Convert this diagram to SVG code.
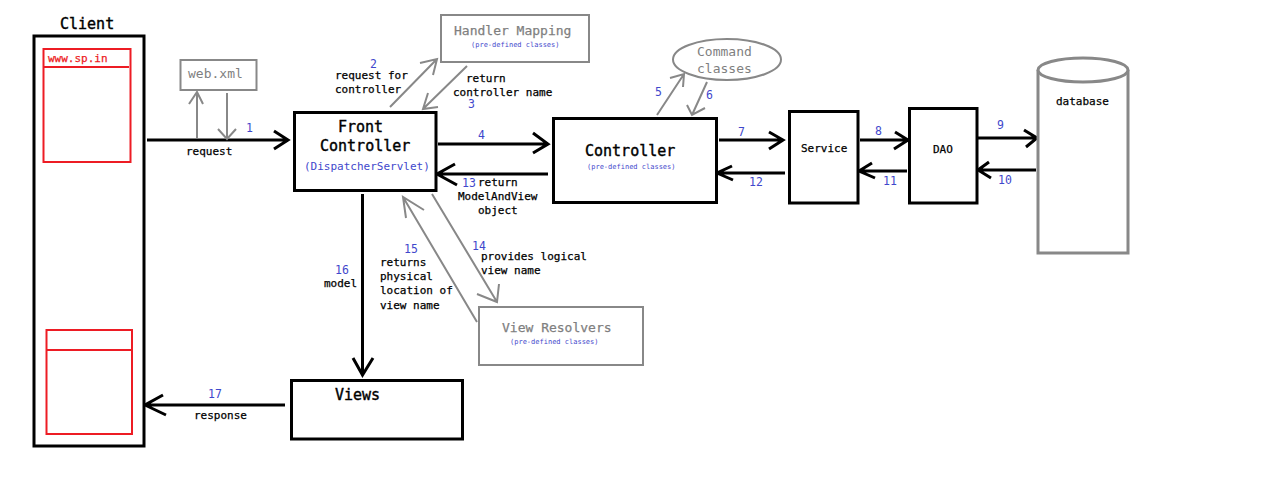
<svg xmlns="http://www.w3.org/2000/svg" width="1280" height="490" viewBox="0 0 1280 490">
<style>
text{font-family:"DejaVu Sans Mono","Liberation Mono",monospace;white-space:pre}
.lbl{font-size:11px;fill:#000;stroke:#000;stroke-width:.25}
.num{font-size:11.500px;fill:#3f48cc}
.pre{font-size:7px;fill:#3f48cc}
.ttl{font-size:15px;fill:#000;stroke:#000;stroke-width:.4}
.gt{font-size:13px;fill:#7f7f7f}
.gb{stroke:#7f7f7f;stroke-width:.25}
.blk{fill:#fff;stroke:#000;stroke-width:3}
.gry{fill:#fff;stroke:#888;stroke-width:2}
.red{fill:#fff;stroke:#ed1c24;stroke-width:2}
.a{fill:none;stroke:#000;stroke-width:3;stroke-linejoin:miter}
.g{fill:none;stroke:#888;stroke-width:2}
</style>
<rect width="1280" height="490" fill="#fff"/>
<g id="connectors">
<path class="a" d="M147 140H287M274 131L288 140L274 149"/>
<path class="g" d="M197 138V92M189 104L197 92L203 104"/>
<path class="g" d="M227 93V139M218 129L227 139L236 129"/>
<path class="g" d="M390 107L437 59M420 63L437 59L433 75"/>
<path class="g" d="M467 66L423 109M438 107L423 109L428 93"/>
<path class="a" d="M438 144H547M533 133L548 144L533 153"/>
<path class="a" d="M548 174H438M455 164L437 174L457 185"/>
<path class="g" d="M657 115L684 74M670 78L684 74L683 87"/>
<path class="g" d="M707 82L692 115M687 105L692 115L705 108"/>
<path class="a" d="M719 140H782M769 132L783 140L769 149"/>
<path class="a" d="M785 173H718M732 166L717 173L733 180"/>
<path class="a" d="M860 140H907M895 132L908 140L894 149"/>
<path class="a" d="M907 171H860M872 163L859 171L875 178"/>
<path class="a" d="M978 138H1036M1024 130L1037 138L1026 147"/>
<path class="a" d="M1036 170H979M989 162L978 170L991 178"/>
<path class="a" d="M362.500 194V374M353 358L362.500 375L373 358"/>
<path class="g" d="M477 322L403 197M424 210L403 197L406 218"/>
<path class="g" d="M432 194L497 302M477 294L497 302L499 284"/>
<path class="a" d="M285 405H146M163 395L145 405L166 415"/>
</g>
<g id="client">
<text class="ttl" x="60" y="29">Client</text>
<rect class="blk" x="34" y="36" width="110" height="410"/>
<rect class="red" x="43.500" y="49" width="87" height="113"/>
<path d="M43 67H129" stroke="#ed1c24" stroke-width="2"/>
<text x="48" y="62" font-size="11" stroke="#ed1c24" stroke-width=".25" fill="#ed1c24">www.sp.in</text>
<rect class="red" x="46.500" y="330" width="85.500" height="104"/>
<path d="M46 350H132" stroke="#ed1c24" stroke-width="2"/>
</g>
<g id="web-xml">
<rect class="gry" x="180.500" y="60" width="76" height="30"/>
<text class="gt" x="188" y="78">web.xml</text>
</g>
<g id="front-controller">
<rect class="blk" x="294.500" y="112.500" width="141.500" height="78"/>
<text class="ttl" x="338" y="132">Front</text>
<text class="ttl" x="320" y="151">Controller</text>
<text x="304" y="170" font-size="11" fill="#3f48cc">(DispatcherServlet)</text>
</g>
<g id="handler-mapping">
<rect class="gry" x="441" y="15" width="148" height="47"/>
<text class="gt gb" x="454" y="35">Handler Mapping</text>
<text class="pre" x="471" y="47">(pre-defined classes)</text>
</g>
<g id="command-classes">
<ellipse cx="727" cy="59.500" rx="54" ry="20.500" fill="#fff" stroke="#888" stroke-width="2"/>
<text class="gt" x="697" y="56">Command</text>
<text class="gt" x="697" y="73">classes</text>
</g>
<g id="controller">
<rect class="blk" x="553.500" y="118.500" width="163" height="84"/>
<text class="ttl" x="585" y="156">Controller</text>
<text class="pre" x="587" y="169">(pre-defined classes)</text>
</g>
<g id="service">
<rect class="blk" x="789.500" y="111.500" width="68.500" height="91.500"/>
<text class="lbl" x="801" y="152">Service</text>
</g>
<g id="dao">
<rect class="blk" x="909.500" y="108.500" width="67.500" height="94.500"/>
<text class="lbl" x="933" y="153">DAO</text>
</g>
<g id="database">
<path d="M1038 70V253H1128V70" fill="#fff" stroke="#888" stroke-width="3"/>
<ellipse cx="1083" cy="70" rx="45" ry="12" fill="#fff" stroke="#888" stroke-width="3"/>
<text class="lbl" x="1056" y="105">database</text>
</g>
<g id="view-resolvers">
<rect class="gry" x="479" y="307" width="164" height="58"/>
<text class="gt gb" x="502" y="332">View Resolvers</text>
<text class="pre" x="510" y="344">(pre-defined classes)</text>
</g>
<g id="views">
<rect class="blk" x="291.500" y="380.500" width="171" height="58.500"/>
<text class="ttl" x="335" y="400">Views</text>
</g>
<g id="labels">
<text class="num" x="246" y="132">1</text>
<text class="lbl" x="186" y="155">request</text>
<text class="num" x="370" y="68">2</text>
<text class="lbl" x="335" y="79">request for</text>
<text class="lbl" x="335" y="93">controller</text>
<text class="lbl" x="466" y="82">return</text>
<text class="lbl" x="453" y="96">controller name</text>
<text class="num" x="468" y="108">3</text>
<text class="num" x="478" y="139">4</text>
<text class="num" x="655" y="96">5</text>
<text class="num" x="706" y="99">6</text>
<text class="num" x="738" y="136">7</text>
<text class="num" x="875" y="135">8</text>
<text class="num" x="997" y="129">9</text>
<text class="num" x="998" y="184">10</text>
<text class="num" x="883" y="185">11</text>
<text class="num" x="749" y="186">12</text>
<text class="num" x="462" y="187">13</text>
<text class="lbl" x="478" y="186">return</text>
<text class="lbl" x="458" y="200">ModelAndView</text>
<text class="lbl" x="478" y="214">object</text>
<text class="num" x="472" y="250">14</text>
<text class="lbl" x="481" y="260">provides logical</text>
<text class="lbl" x="481" y="274">view name</text>
<text class="num" x="404" y="253">15</text>
<text class="lbl" x="380" y="266">returns</text>
<text class="lbl" x="380" y="280">physical</text>
<text class="lbl" x="380" y="294">location of</text>
<text class="lbl" x="380" y="309">view name</text>
<text class="num" x="335" y="274">16</text>
<text class="lbl" x="324" y="287">model</text>
<text class="num" x="208" y="398">17</text>
<text class="lbl" x="194" y="419">response</text>
</g>
</svg>
